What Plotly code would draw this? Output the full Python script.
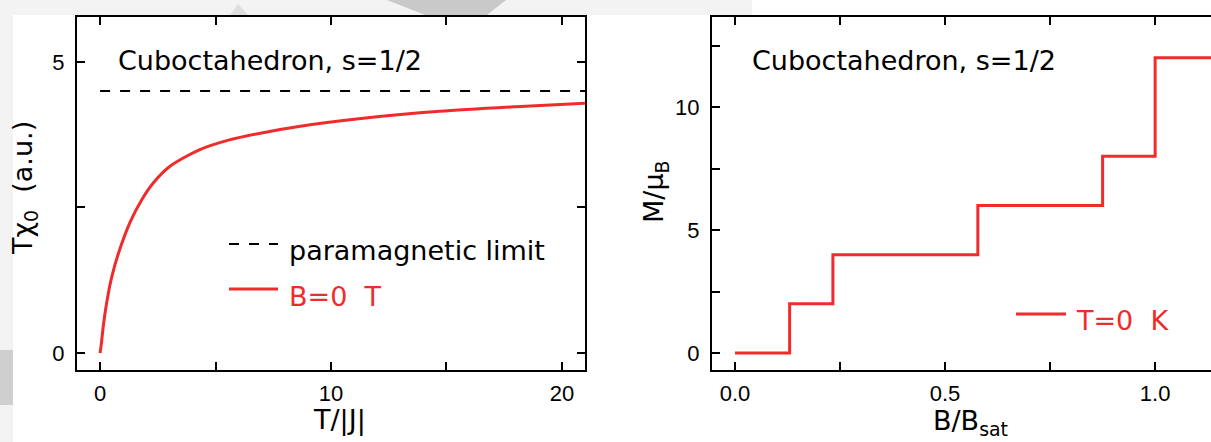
import plotly.graph_objects as go

# ---------------- data ----------------
# Left panel: T*chi_0 vs T/|J|
T_vals = [0.0, 0.05, 0.15, 0.3, 0.5, 0.8, 1.3, 1.8, 2.3, 3.0, 4.3, 5.6, 7.0, 8.6, 11.4, 14.7, 18.0, 21.0]
Tchi_vals = [0.0, 0.15, 0.5, 0.9, 1.3, 1.72, 2.25, 2.63, 2.92, 3.2, 3.49, 3.66, 3.78, 3.89, 4.03, 4.15, 4.23, 4.29]
para_T = [0.0, 21.0]
para_vals = [4.5, 4.5]

# Right panel: M/mu_B vs B/B_sat (T = 0 K staircase)
B_vals = [0.0, 0.13, 0.233, 0.578, 0.875, 1.0, 1.15]
M_vals = [0, 2, 4, 6, 8, 12, 12]

# ticks (labelled major ticks + unlabelled minor ticks)
x1_tickvals = [0, 10, 20]
x1_ticktext = ["0", "10", "20"]
x1_minor = [5, 15]
y1_tickvals = [0, 5]
y1_ticktext = ["0", "5"]
y1_minor = [2.5]
x2_tickvals = [0, 0.5, 1.0]
x2_ticktext = ["0.0", "0.5", "1.0"]
x2_minor = [0.25, 0.75]
y2_tickvals = [0, 5, 10]
y2_ticktext = ["0", "5", "10"]
y2_minor = [2.5, 7.5, 12.5]

title_text = "Cuboctahedron, s=1/2"
legend_para = "paramagnetic limit"
legend_B0 = "B=0  T"
legend_T0 = "T=0  K"

RED = "#F02B2B"
W, H = 1211, 442
TXT = "DejaVu Sans"
NUM = "Liberation Sans"

fig = go.Figure()
fig.add_trace(go.Scatter(x=para_T, y=para_vals, mode="lines", xaxis="x", yaxis="y",
                         line=dict(color="black", width=2, dash="10px,10px"), showlegend=False))
fig.add_trace(go.Scatter(x=T_vals, y=Tchi_vals, mode="lines", xaxis="x", yaxis="y",
                         line=dict(color=RED, width=3, shape="spline", smoothing=0.8), showlegend=False))
fig.add_trace(go.Scatter(x=B_vals, y=M_vals, mode="lines", xaxis="x2", yaxis="y2",
                         line=dict(color=RED, width=3, shape="hv"), showlegend=False))

def px_x(p):
    return p / W

def px_y(p):
    return 1 - p / H

def axis_style(minor_vals):
    return dict(showline=True, linecolor="black", linewidth=2, ticks="inside", ticklen=8,
                tickwidth=2, tickcolor="black", showgrid=False, zeroline=False,
                tickfont=dict(family=NUM, size=22, color="black"), tickmode="array",
                minor=dict(tickmode="array", tickvals=minor_vals, ticks="inside", ticklen=8,
                           tickwidth=2, tickcolor="black", showgrid=False))

fig.update_layout(
    width=W, height=H, autosize=False,
    margin=dict(l=0, r=0, t=0, b=0),
    paper_bgcolor="white", plot_bgcolor="white",
    xaxis=dict(domain=[px_x(77), px_x(585)], range=[-1, 21], anchor="y", mirror="allticks",
               tickvals=x1_tickvals, ticktext=x1_ticktext, ticklabelstandoff=3, **axis_style(x1_minor)),
    yaxis=dict(domain=[px_y(370), px_y(17)], range=[-0.29, 5.77], anchor="x", mirror="allticks",
               tickvals=y1_tickvals, ticktext=y1_ticktext, ticklabelstandoff=6, **axis_style(y1_minor)),
    xaxis2=dict(domain=[px_x(712), 1.0], range=[-0.0548, 1.133], anchor="y2", mirror="allticks",
                tickvals=x2_tickvals, ticktext=x2_ticktext, ticklabelstandoff=3, **axis_style(x2_minor)),
    yaxis2=dict(domain=[px_y(370), px_y(17)], range=[-0.69, 13.66], anchor="x2", mirror=False,
                tickvals=y2_tickvals, ticktext=y2_ticktext, ticklabelstandoff=6, **axis_style(y2_minor)),
)

shapes = []
# faint screenshot background margins / watermark bits
shapes.append(dict(type="rect", xref="paper", yref="paper", x0=0, x1=px_x(752), y0=px_y(15), y1=1,
                   fillcolor="#f3f3f3", line=dict(width=0), layer="below"))
shapes.append(dict(type="rect", xref="paper", yref="paper", x0=0, x1=px_x(13), y0=0, y1=1,
                   fillcolor="#f3f3f3", line=dict(width=0), layer="below"))
shapes.append(dict(type="rect", xref="paper", yref="paper", x0=0, x1=px_x(13), y0=px_y(405), y1=px_y(350),
                   fillcolor="#cfcfcf", line=dict(width=0), layer="below"))
shapes.append(dict(type="path", xref="paper", yref="paper",
                   path=f"M {px_x(387)},{px_y(0)} L {px_x(506)},{px_y(0)} L {px_x(487)},{px_y(15)} L {px_x(425)},{px_y(15)} Z",
                   fillcolor="#c9c9c9", line=dict(width=0), layer="below"))
shapes.append(dict(type="path", xref="paper", yref="paper",
                   path=f"M {px_x(230)},{px_y(15)} L {px_x(238)},{px_y(4)} L {px_x(248)},{px_y(15)} Z",
                   fillcolor="#dedede", line=dict(width=0), layer="below"))

# legend samples
shapes.append(dict(type="line", xref="x domain", yref="y domain",
                   x0=(229 - 77) / 508, x1=(278 - 77) / 508, y0=(370 - 244) / 353, y1=(370 - 244) / 353,
                   line=dict(color="black", width=2, dash="10px,10px")))
shapes.append(dict(type="line", xref="x domain", yref="y domain",
                   x0=(229 - 77) / 508, x1=(278 - 77) / 508, y0=(370 - 289) / 353, y1=(370 - 289) / 353,
                   line=dict(color=RED, width=3)))
shapes.append(dict(type="line", xref="x2 domain", yref="y2 domain",
                   x0=(1016 - 712) / 499, x1=(1066 - 712) / 499, y0=(370 - 314) / 353, y1=(370 - 314) / 353,
                   line=dict(color=RED, width=3)))
fig.update_layout(shapes=shapes)

ann = []
def add_text(text, x, y, xanchor="left", yanchor="middle", color="black", size=27, angle=0):
    ann.append(dict(text=text, x=px_x(x), y=px_y(y), xref="paper", yref="paper", xanchor=xanchor,
                    yanchor=yanchor, showarrow=False, textangle=angle,
                    font=dict(family=TXT, size=size, color=color)))

add_text(title_text, 116, 61)
add_text(title_text, 750, 61)
add_text(legend_para, 287, 250)
add_text(legend_B0, 287, 296, color=RED)
add_text(legend_T0, 1074, 320, color=RED)
add_text("T/|J|", 339, 420, xanchor="center")
add_text("B/B<sub>sat</sub>", 970, 422, xanchor="center")
add_text("Tχ<sub>0</sub>  (a.u.)", 24, 188, xanchor="center", angle=-90)
add_text("M/μ<sub>B</sub>", 655, 192, xanchor="center", angle=-90)
fig.update_layout(annotations=ann)

fig.write_html("out.html")
